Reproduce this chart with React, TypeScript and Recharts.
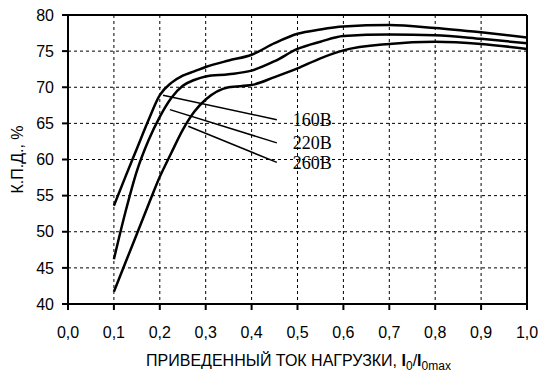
import React from 'react';
import {
    CartesianGrid,
    Line,
    LineChart,
    ReferenceDot,
    ReferenceLine,
    XAxis,
    YAxis,
} from 'recharts';

// приведенный ток нагрузки
const load = [0.1, 0.125, 0.15, 0.175, 0.2, 0.225, 0.25, 0.275, 0.3, 0.35, 0.4, 0.45, 0.5, 0.55, 0.6, 0.7, 0.8, 0.9, 1.0];
const eff160 = [53.6, 57.6, 61.5, 65.4, 68.9, 70.6, 71.6, 72.2, 72.8, 73.7, 74.5, 76.1, 77.4, 78.0, 78.4, 78.6, 78.2, 77.6, 76.9];
const eff220 = [46.2, 52.7, 58.4, 62.6, 65.9, 68.5, 70.2, 71.0, 71.5, 71.8, 72.3, 73.6, 75.3, 76.3, 77.1, 77.3, 77.2, 76.7, 76.1];
const eff260 = [41.7, 45.7, 49.7, 53.7, 57.6, 60.9, 64.1, 66.6, 68.3, 70.0, 70.3, 71.4, 72.6, 74.0, 75.1, 76.0, 76.3, 76.0, 75.3];

const xTicks = [0, 0.1, 0.2, 0.3, 0.4, 0.5, 0.6, 0.7, 0.8, 0.9, 1.0];
const yTicks = [40, 45, 50, 55, 60, 65, 70, 75, 80];

// выноски: точка на кривой -> конец у подписи
const callouts = [
    {name: '160В', from: [0.207, 68.9], to: [0.455, 65.5]},
    {name: '220В', from: [0.222, 66.9], to: [0.455, 62.3]},
    {name: '260В', from: [0.262, 64.6], to: [0.455, 59.6]},
];

const data = load.map((x, i) => ({x, v160: eff160[i], v220: eff220[i], v260: eff260[i]}));

const sans = '"Liberation Sans", Arial, sans-serif';
const serif = '"Liberation Serif", "Times New Roman", serif';

const XTitle = (props: any) => {
    const vb = props.viewBox || {};
    const cx = (vb.x ?? 68) + (vb.width ?? 459) / 2 + 1;
    const y = (vb.y ?? 304) + 62;
    return (
        <text x={cx} y={y} textAnchor='middle' fontFamily={sans} fontSize={16} fill='#000'>
            ПРИВЕДЕННЫЙ ТОК НАГРУЗКИ, <tspan fontWeight='bold'>I</tspan>
            <tspan fontSize={12} dy={4}>0</tspan>
            <tspan dy={-4}>/</tspan>
            <tspan fontWeight='bold'>I</tspan>
            <tspan fontSize={12} dy={4}>0max</tspan>
        </text>
    );
};

const YTitle = (props: any) => {
    const vb = props.viewBox || {};
    const cy = (vb.y ?? 15) + (vb.height ?? 289) / 2;
    return (
        <text
            x={17}
            y={cy}
            transform={`rotate(-90, 17, ${cy})`}
            textAnchor='middle'
            dominantBaseline='central'
            fontFamily={sans}
            fontSize={16}
            fill='#000'
        >
            К.П.Д., %
        </text>
    );
};

const App = () => {
    return (
        <div style={{position: 'absolute', left: 0, top: 0, background: '#fff'}}>
            <LineChart
                width={539}
                height={372}
                data={data}
                margin={{top: 15, right: 12, left: 0, bottom: 0}}
            >
                <CartesianGrid stroke='#000' strokeDasharray='3 3' strokeWidth={1} />
                <XAxis
                    dataKey='x'
                    type='number'
                    domain={[0, 1]}
                    ticks={xTicks}
                    tickFormatter={(v: number) => v.toFixed(1).replace('.', ',')}
                    height={68}
                    stroke='#000'
                    strokeWidth={2}
                    tickSize={6}
                    tickMargin={17}
                    tick={{fill: '#000', fontSize: 16, fontFamily: sans}}
                    label={<XTitle />}
                />
                <YAxis
                    type='number'
                    domain={[40, 80]}
                    ticks={yTicks}
                    width={68}
                    stroke='#000'
                    strokeWidth={2}
                    tickSize={6}
                    tickMargin={8}
                    tick={{fill: '#000', fontSize: 16, fontFamily: sans}}
                    label={<YTitle />}
                />
                <ReferenceLine y={80} stroke='#000' strokeWidth={2} />
                <ReferenceLine x={1} stroke='#000' strokeWidth={2} />
                <Line type='monotone' dataKey='v160' stroke='#000' strokeWidth={2.5} dot={false} isAnimationActive={false} />
                <Line type='monotone' dataKey='v220' stroke='#000' strokeWidth={2.5} dot={false} isAnimationActive={false} />
                <Line type='monotone' dataKey='v260' stroke='#000' strokeWidth={2.5} dot={false} isAnimationActive={false} />
                {callouts.map((c) => (
                    <ReferenceLine
                        key={c.name + 'l'}
                        segment={[
                            {x: c.from[0], y: c.from[1]},
                            {x: c.to[0], y: c.to[1]},
                        ]}
                        stroke='#000'
                        strokeWidth={1.5}
                    />
                ))}
                {callouts.map((c) => (
                    <ReferenceDot
                        key={c.name}
                        x={c.to[0]}
                        y={c.to[1]}
                        r={0}
                        fill='none'
                        stroke='none'
                        label={{
                            value: c.name,
                            position: 'right',
                            offset: 16,
                            fill: '#000',
                            fontSize: 18,
                            fontFamily: serif,
                        }}
                    />
                ))}
            </LineChart>
        </div>
    );
};

export default App;
